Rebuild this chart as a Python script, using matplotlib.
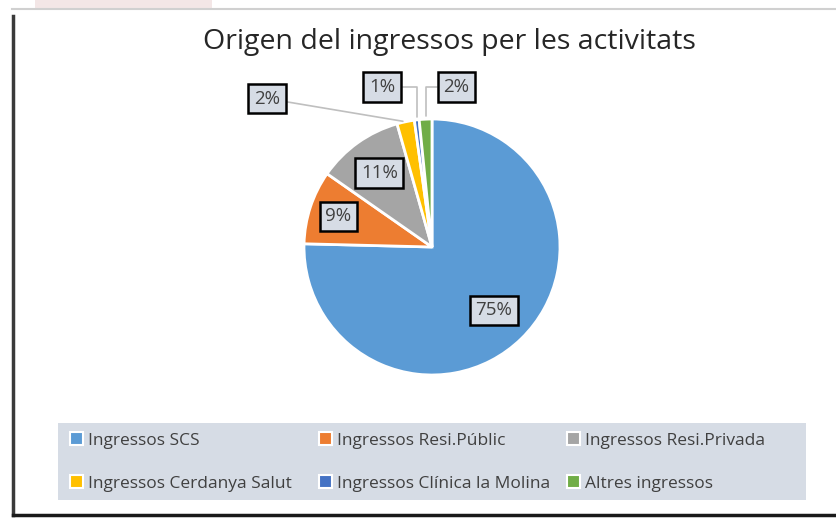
import numpy as np
import matplotlib
matplotlib.use("Agg")
import matplotlib.pyplot as plt
from matplotlib.patches import Rectangle
from matplotlib.lines import Line2D

categories = ["Ingressos SCS", "Ingressos Resi.Públic", "Ingressos Resi.Privada",
              "Ingressos Cerdanya Salut", "Ingressos Clínica la Molina", "Altres ingressos"]
percent = [75.4, 9.3, 10.9, 2.2, 0.6, 1.6]
colors = ["#5b9bd5", "#ed7d31", "#a5a5a5", "#ffc000", "#4472c4", "#70ad47"]

plt.rcParams['font.family'] = ['Open Sans', 'DejaVu Sans']

W, H = 836, 518
cx, cy, R = 432, 247, 128  # pie centre and radius in px

fig = plt.figure(figsize=(W / 100, H / 100), dpi=100)
fig.patch.set_facecolor("white")

# screenshot frame bits
fig.patches.append(Rectangle((35 / W, 1 - 8 / H), 177 / W, 8 / H, transform=fig.transFigure,
                             fc="#f3e6e6", ec="none"))
fig.lines.append(Line2D([12 / W, 1], [1 - 9 / H, 1 - 9 / H], transform=fig.transFigure,
                        color="#d0d0d0", lw=1.5))
fig.lines.append(Line2D([13 / W, 13 / W], [1 - 16 / H, 1 - 515 / H], transform=fig.transFigure,
                        color="#3a3a3a", lw=2.5))
fig.lines.append(Line2D([13 / W, 1], [1 - 515 / H, 1 - 515 / H], transform=fig.transFigure,
                        color="#1a1a1a", lw=2.5))

ax = fig.add_axes([0, 0, 1, 1])
wedges, _ = ax.pie(percent, colors=colors, startangle=90, counterclock=False,
                   wedgeprops=dict(edgecolor="white", linewidth=2))
ax.set_xlim(-cx / R, (W - cx) / R)
ax.set_ylim(-(H - cy) / R, cy / R)
ax.set_aspect("auto")
ax.axis("off")

box = dict(boxstyle="square,pad=0.3", fc="#d6dce5", ec="black", lw=1.8)
inside_r = [0.69, 0.77, 0.71]
for i in range(3):
    w = wedges[i]
    ang = np.deg2rad((w.theta1 + w.theta2) / 2)
    ax.text(inside_r[i] * np.cos(ang), inside_r[i] * np.sin(ang), "%.0f%%" % percent[i],
            ha="center", va="center", fontsize=13.5, color="#404040", bbox=box)

# outside labels with leader lines
label_pos = {3: (-1.29, 1.16), 4: (-0.39, 1.25), 5: (0.19, 1.25)}
conn = {3: "arc3", 4: "angle,angleA=0,angleB=90,rad=0", 5: "angle,angleA=0,angleB=90,rad=0"}
for i, pos in label_pos.items():
    w = wedges[i]
    ang = np.deg2rad((w.theta1 + w.theta2) / 2)
    ax.annotate("%.0f%%" % percent[i], xy=(np.cos(ang), np.sin(ang)), xytext=pos,
                ha="center", va="center", fontsize=13.5, color="#404040", bbox=box,
                arrowprops=dict(arrowstyle="-", color="#bfbfbf", lw=1.2,
                                connectionstyle=conn[i], shrinkA=0, shrinkB=2))

fig.text(449 / W, 1 - 42 / H, "Origen del ingressos per les activitats",
         ha="center", va="center", fontsize=20.5, color="#262626")

# legend: one small legend per column so the columns sit where the reference has them
fig.patches.append(Rectangle((58 / W, 1 - 500 / H), 748 / W, 77 / H, transform=fig.transFigure,
                             fc="#d6dce5", ec="none"))
col_x = [63, 312, 560]
for c in range(3):
    idx = [c, c + 3]
    handles = [Rectangle((0, 0), 1, 1, fc=colors[k], ec="white", lw=1.5) for k in idx]
    leg = fig.legend(handles, [categories[k] for k in idx], loc="center left",
                     bbox_to_anchor=(col_x[c] / W, 1 - 462 / H), frameon=False, fontsize=12.5,
                     handlelength=0.75, handleheight=0.75, handletextpad=0.3,
                     labelspacing=1.55, borderaxespad=0)
    for t in leg.get_texts():
        t.set_color("#404040")

fig.savefig("out.png", dpi=100)
